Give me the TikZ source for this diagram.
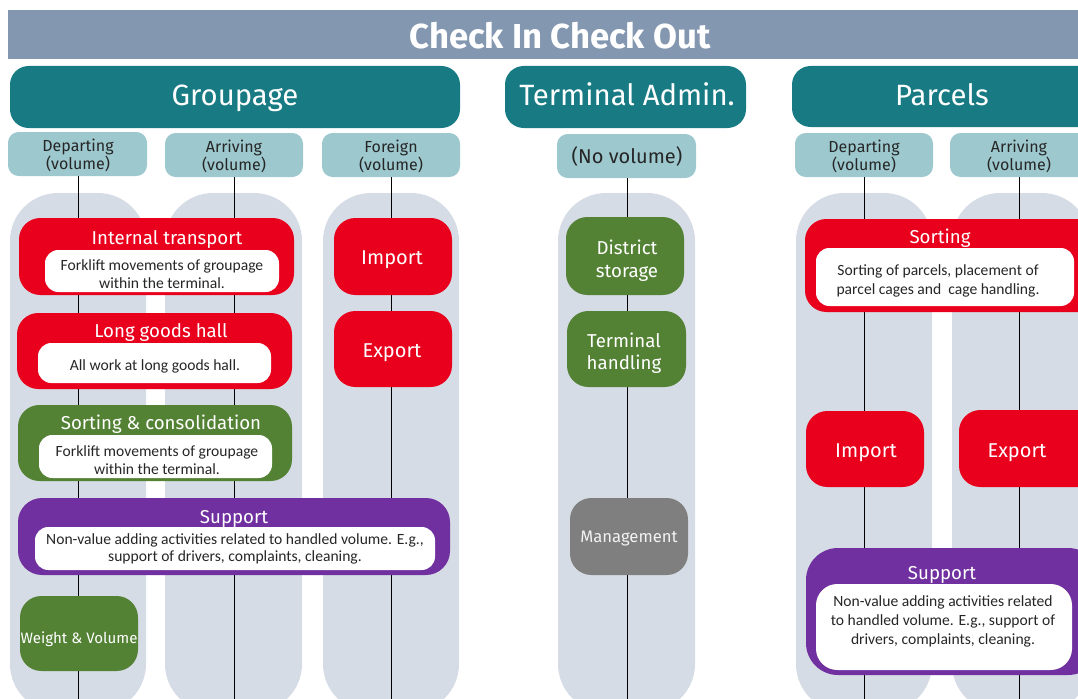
\documentclass[tikz,border=0pt]{standalone}
\usepackage{fontspec}
\setmainfont{Fira Sans}
\newfontfamily\descfont{Carlito}
\usetikzlibrary{fit}
\definecolor{barblue}{HTML}{8497B0}
\definecolor{headteal}{HTML}{187B84}
\definecolor{subteal}{HTML}{9CC8CE}
\definecolor{lanegray}{HTML}{D6DCE5}
\definecolor{actred}{HTML}{E8001C}
\definecolor{actgreen}{HTML}{548235}
\definecolor{actpurple}{HTML}{7030A0}
\definecolor{actgray}{HTML}{7F7F7F}
\definecolor{desctext}{HTML}{262626}
\begin{document}
\begin{tikzpicture}[x=0.75pt,y=-0.75pt,
  every node/.style={inner sep=0pt, outer sep=0pt},
  lane/.style={fill=lanegray, rounded corners=36pt},
  headbox/.style={fill=headteal, rounded corners=14pt},
  subbox/.style={fill=subteal, rounded corners=8pt},
  redbox/.style={fill=actred, rounded corners=16pt},
  greenbox/.style={fill=actgreen, rounded corners=16pt},
  purplebox/.style={fill=actpurple, rounded corners=18pt},
  graybox/.style={fill=actgray, rounded corners=16pt},
  descbox/.style={fill=white, rounded corners=10pt},
  headtext/.style={text=white, anchor=base, font=\fontsize{22}{26}\selectfont},
  subtext/.style={text=black!85, align=center, font=\fontsize{12}{13.5}\selectfont},
  boxtitle/.style={text=white, font=\fontsize{14}{16}\selectfont},
  boxtext/.style={text=white, align=center, font=\fontsize{15}{17.25}\selectfont},
  desc/.style={text=desctext, align=center, font=\descfont\fontsize{11.7}{13}\selectfont},
  flow/.style={draw=black, line width=0.75pt}]
\useasboundingbox (0,0) rectangle (1078,699);
\clip (0,0) rectangle (1078,699);

% title bar
\node[fill=barblue, fit={(8,10) (1095,59)}] (bar) {};
\node[text=white, font=\bfseries\fontsize{26}{30}\selectfont] (title) at (560,36) {Check In Check Out};

% section headers
\node[headbox, fit={(10,66) (460,128)}] (hgroup) {};
\node[headtext] at (235,106) {Groupage};
\node[headbox, fit={(505,66) (746,128)}] (hadmin) {};
\node[headtext] at (627,106) {Terminal Admin.};
\node[headbox, fit={(792,66) (1100,127)}] (hparcel) {};
\node[headtext] at (942,106) {Parcels};

% lanes
\fill[lane] (10,193) rectangle (146,712);
\fill[lane] (165,193) rectangle (302,712);
\fill[lane] (323,193) rectangle (459,712);
\fill[lane] (558,193) rectangle (695,712);
\fill[lane] (796,193) rectangle (932,712);
\fill[lane] (952,193) rectangle (1090,712);

% volume headers
\node[subbox, fit={(8,132) (147,176)}] (gdep) {};
\node[subtext] at (78,155) {Departing\\(volume)};
\node[subbox, fit={(165,133) (303,177)}] (garr) {};
\node[subtext] at (234,156) {Arriving\\(volume)};
\node[subbox, fit={(322,133) (460,177)}] (gfor) {};
\node[subtext] at (391,156) {Foreign\\(volume)};
\node[subbox, fit={(557,134) (696,178)}] (anov) {};
\node[subtext, font=\fontsize{15}{17}\selectfont] at (627,156) {(No volume)};
\node[subbox, fit={(795,133) (933,177)}] (pdep) {};
\node[subtext] at (864,156) {Departing\\(volume)};
\node[subbox, fit={(950,133) (1100,177)}] (parr) {};
\node[subtext] at (1019,156) {Arriving\\(volume)};

% lane ends
\coordinate (gdepend) at (78,699);
\coordinate (garrend) at (234,699);
\coordinate (gforend) at (391,699);
\coordinate (anovend) at (627,699);
\coordinate (pdepend) at (864,699);
\coordinate (parrend) at (1019,699);

% flow lines
\draw[flow] (gdep.south -| gdepend) -- (gdepend);
\draw[flow] (garr.south -| garrend) -- (garrend);
\draw[flow] (gfor.south -| gforend) -- (gforend);
\draw[flow] (anov.south -| anovend) -- (anovend);
\draw[flow] (pdep.south -| pdepend) -- (pdepend);
\draw[flow] (parr.south -| parrend) -- (parrend);

% Groupage activities
\node[redbox, fit={(19,218) (294,295)}] (intr) {};
\node[boxtitle] at (167,239) {Internal transport};
\node[descbox, fit={(45,250) (279,292)}] (intrd) {};
\node[desc] at (162,274) {Forklift movements of groupage\\within the terminal.};

\node[redbox, fit={(17,313) (292,389)}] (lgh) {};
\node[boxtitle] at (161,332) {Long goods hall};
\node[descbox, fit={(38,343) (271,383)}] (lghd) {};
\node[desc] at (155,366) {All work at long goods hall.};

\node[greenbox, fit={(18,405) (292,481)}] (sort) {};
\node[boxtitle] at (161,424) {Sorting \& consolidation};
\node[descbox, fit={(39,435) (272,478)}] (sortd) {};
\node[desc] at (157,460) {Forklift movements of groupage\\within the terminal.};

\node[purplebox, fit={(18,498) (450,575)}] (supp) {};
\node[boxtitle] at (234,519) {Support};
\node[descbox, fit={(35,527) (435,570)}] (suppd) {};
\node[desc] at (235,549) {Non-value adding activities related to handled volume. E.g.,\\support of drivers, complaints, cleaning.};

\node[greenbox, fit={(20,596) (138,671)}] (wv) {};
\node[text=white, font=\fontsize{11.3}{13}\selectfont] at (79,639) {Weight \& Volume};

\node[redbox, fit={(334,218) (452,295)}] (gimp) {};
\node[boxtext] at (392,260) {Import};
\node[redbox, fit={(334,311) (452,387)}] (gexp) {};
\node[boxtext] at (392,353) {Export};

% Terminal admin activities
\node[greenbox, fit={(566,217) (684,295)}] (dist) {};
\node[boxtext, font=\fontsize{14}{17.25}\selectfont] at (627,261) {District\\storage};
\node[greenbox, fit={(567,311) (686,387)}] (thand) {};
\node[boxtext, font=\fontsize{14}{16.5}\selectfont] at (624,353) {Terminal\\handling};
\node[graybox, fit={(570,498) (688,575)}] (mgmt) {};
\node[text=gray!10, font=\fontsize{12.5}{14}\selectfont] at (629,539) {Management};

% Parcels activities
\node[redbox, fit={(805,219) (1100,312)}] (psort) {};
\node[boxtitle] at (940,238) {Sorting};
\node[descbox, fit={(816,248) (1074,306)}] (psortd) {};
\node[desc, font=\descfont\fontsize{11.7}{14.25}\selectfont] at (938,281) {Sorting of parcels, placement of\\parcel cages and\ \ cage handling.};

\node[redbox, fit={(806,411) (924,487)}] (pimp) {};
\node[boxtext] at (866,453) {Import};
\node[redbox, fit={(959,410) (1100,487)}] (pexp) {};
\node[boxtext] at (1017,453) {Export};

\node[purplebox, rounded corners=24pt, fit={(806,548) (1100,675)}] (psupp) {};
\node[boxtitle] at (942,575) {Support};
\node[descbox, rounded corners=16pt, fit={(816,584) (1072,670)}] (psuppd) {};
\node[desc, font=\descfont\fontsize{11.7}{14.25}\selectfont] at (943,621) {Non-value adding activities related\\to handled volume. E.g., support of\\drivers, complaints, cleaning.};
\end{tikzpicture}
\end{document}
